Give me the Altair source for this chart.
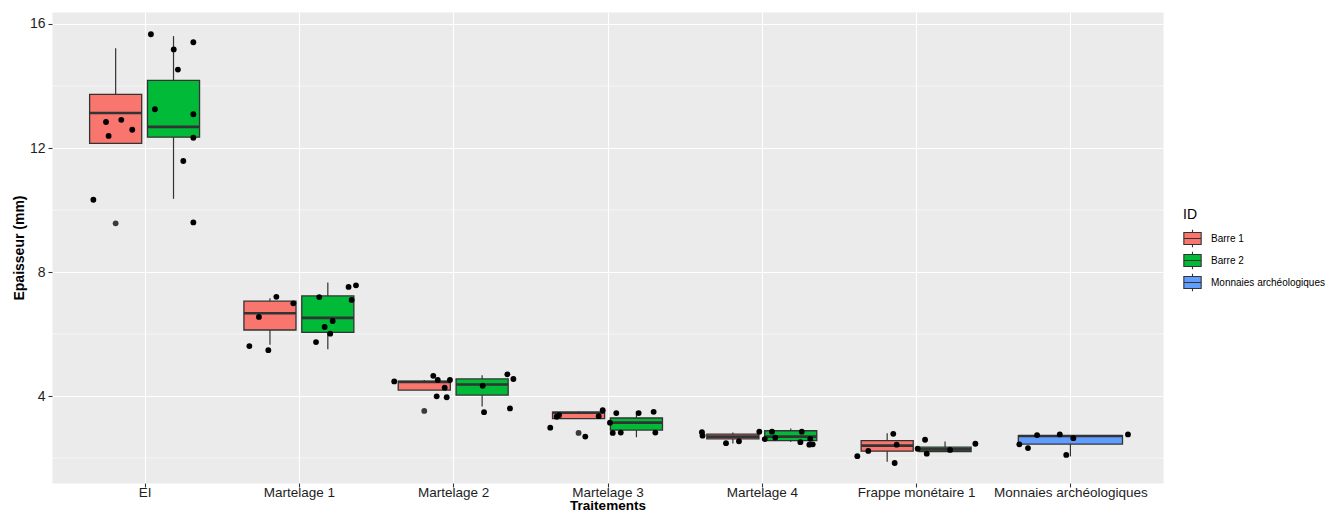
import json
import altair as alt
import pandas as pd

# ---------------- data ----------------
categories = ["EI", "Martelage 1", "Martelage 2", "Martelage 3", "Martelage 4",
              "Frappe monétaire 1", "Monnaies archéologiques"]
ids = ["Barre 1", "Barre 2", "Monnaies archéologiques"]
id_colors = ["#F8766D", "#00BA38", "#619CFF"]

box_cat = ["EI", "EI", "Martelage 1", "Martelage 1", "Martelage 2", "Martelage 2",
           "Martelage 3", "Martelage 3", "Martelage 4", "Martelage 4",
           "Frappe monétaire 1", "Frappe monétaire 1", "Monnaies archéologiques"]
box_id = ["Barre 1", "Barre 2"] * 6 + ["Monnaies archéologiques"]
box_low = [12.15, 10.36, 5.65, 5.51, 4.19, 3.66, 3.27, 2.67, 2.47, 2.52, 1.88, 2.21, 2.05]
box_q1 = [12.15, 12.35, 6.13, 6.05, 4.19, 4.03, 3.27, 2.90, 2.62, 2.56, 2.22, 2.21, 2.45]
box_med = [13.13, 12.68, 6.67, 6.52, 4.45, 4.37, 3.46, 3.14, 2.69, 2.69, 2.40, 2.28, 2.71]
box_q3 = [13.73, 14.18, 7.06, 7.23, 4.48, 4.55, 3.48, 3.29, 2.77, 2.88, 2.56, 2.35, 2.72]
box_high = [15.22, 15.61, 7.15, 7.66, 4.52, 4.67, 3.50, 3.51, 2.82, 2.95, 2.80, 2.53, 2.72]

out_cat = ["EI", "Martelage 2", "Martelage 3"]
out_id = ["Barre 1", "Barre 1", "Barre 1"]
out_value = [9.57, 3.52, 2.81]

pt_cat = (["EI"] * 14 + ["Martelage 1"] * 13 + ["Martelage 2"] * 12 + ["Martelage 3"] * 13
          + ["Martelage 4"] * 13 + ["Frappe monétaire 1"] * 10 + ["Monnaies archéologiques"] * 7)
pt_jitter = [
    0.041, 0.316, 0.189, 0.216, 0.067, 0.316, -0.250, -0.151, -0.080, -0.233, 0.316, 0.251, -0.332, 0.316,
    -0.146, -0.036, -0.259, -0.321, -0.198, 0.132, 0.342, 0.322, 0.370, 0.219, 0.167, 0.203, 0.111,
    -0.382, -0.129, -0.100, -0.021, -0.055, -0.107, -0.042, 0.191, 0.351, 0.390, 0.200, 0.368,
    -0.371, -0.329, -0.314, -0.144, -0.057, -0.031, 0.016, 0.057, 0.034, 0.086, 0.202, 0.299, 0.310,
    -0.388, -0.384, -0.232, -0.148, -0.016, 0.066, 0.019, 0.087, 0.259, 0.250, 0.314, 0.308, 0.330,
    -0.381, -0.310, -0.148, -0.126, -0.139, 0.010, 0.058, 0.069, 0.220, 0.384,
    -0.331, -0.275, -0.216, -0.069, 0.019, -0.027, 0.373,
]
pt_value = [
    15.67, 15.41, 15.18, 14.53, 13.25, 13.09, 12.84, 12.91, 12.59, 12.39, 12.33, 11.58, 10.33, 9.60,
    7.20, 6.99, 6.55, 5.61, 5.48, 7.19, 7.10, 7.52, 7.57, 6.42, 6.23, 6.01, 5.74,
    4.47, 4.65, 4.52, 4.52, 4.27, 3.99, 3.96, 4.33, 4.70, 4.55, 3.48, 3.60,
    2.98, 3.33, 3.38, 2.69, 3.35, 3.54, 3.14, 3.45, 2.81, 2.82, 3.45, 3.49, 2.82,
    2.83, 2.72, 2.48, 2.54, 2.85, 2.85, 2.61, 2.66, 2.85, 2.51, 2.62, 2.43, 2.44,
    2.06, 2.23, 2.78, 2.43, 1.84, 2.30, 2.59, 2.14, 2.26, 2.46,
    2.44, 2.32, 2.74, 2.76, 2.64, 2.10, 2.76,
]

y_major = [4, 8, 12, 16]
y_minor = [2, 6, 10, 14]

# ---------------- dodge positions (ggplot-like) ----------------
DODGE = 0.75
boxes = pd.DataFrame({"cat": box_cat, "ID": box_id, "low": box_low, "q1": box_q1,
                      "med": box_med, "q3": box_q3, "high": box_high})
boxes["ci"] = boxes["cat"].map(categories.index)
boxes["n"] = boxes.groupby("cat")["ID"].transform("count")
boxes["k"] = boxes.groupby("cat").cumcount()
slot = DODGE / boxes["n"]
boxes["xc"] = boxes["ci"] - DODGE / 2 + (boxes["k"] + 0.5) * slot
boxes["xl"] = boxes["xc"] - slot * 0.9 / 2
boxes["xr"] = boxes["xc"] + slot * 0.9 / 2

outs = pd.DataFrame({"cat": out_cat, "ID": out_id, "value": out_value})
outs = outs.merge(boxes[["cat", "ID", "xc"]], on=["cat", "ID"], how="left")

pts = pd.DataFrame({"cat": pt_cat, "jit": pt_jitter, "value": pt_value})
pts["x"] = pts["cat"].map(categories.index) + pts["jit"]

minor = pd.DataFrame({"y": y_minor})

# ---------------- scales / axes ----------------
FONT = "Liberation Sans"
xscale = alt.Scale(domain=[-0.6, 6.6], nice=False, zero=False)
yscale = alt.Scale(domain=[1.194, 16.387], nice=False, zero=False)
label_expr = json.dumps(categories, ensure_ascii=False) + "[datum.value]"

xaxis = alt.Axis(values=list(range(len(categories))), labelExpr=label_expr, title="Traitements",
                 grid=True, gridColor="white", gridWidth=1.1, domain=False,
                 tickColor="#333333", tickSize=4, tickWidth=1.1, labelPadding=-2,
                 labelFont=FONT, labelFontSize=13.5, labelColor="#1e1e1e",
                 titleFont=FONT, titleFontSize=13.5, titleFontWeight="bold",
                 titleColor="black", titleBaseline="alphabetic", titleY=26.5,
                 labelOverlap=False, labelFlush=False)
yaxis = alt.Axis(values=y_major, format="d", title="Epaisseur (mm)",
                 grid=True, gridColor="white", gridWidth=1.1, domain=False,
                 tickColor="#333333", tickSize=4, tickWidth=1.1, labelPadding=3,
                 labelFont=FONT, labelFontSize=14, labelColor="#1e1e1e",
                 titleFont=FONT, titleFontSize=14, titleFontWeight="bold",
                 titleColor="black", titlePadding=3)

box_path = "M-1,-0.7H1V0.7H-1Z M-1,0H1 M0,-0.7V-1 M0,0.7V1"

minor_rules = alt.Chart(minor).mark_rule(color="white", strokeWidth=0.55).encode(
    y=alt.Y("y:Q", scale=yscale, axis=yaxis)
)

whiskers = alt.Chart(boxes).mark_rule(color="#333333", strokeWidth=1.2).encode(
    x=alt.X("xc:Q", scale=xscale, axis=xaxis),
    y=alt.Y("low:Q", scale=yscale, axis=yaxis),
    y2="high:Q",
)

bars = alt.Chart(boxes).mark_bar(stroke="#333333", strokeWidth=1.3, opacity=1).encode(
    x=alt.X("xl:Q", scale=xscale, axis=xaxis),
    x2="xr:Q",
    y=alt.Y("q1:Q", scale=yscale, axis=yaxis),
    y2="q3:Q",
    color=alt.Color("ID:N", scale=alt.Scale(domain=ids, range=id_colors),
                    legend=alt.Legend(title="ID", orient="none", legendX=1131, legendY=196,
                                      symbolType=box_path, symbolSize=300,
                                      symbolStrokeColor="#333333", symbolStrokeWidth=1.1,
                                      symbolOpacity=1, padding=0, rowPadding=-1,
                                      titlePadding=7, labelOffset=9,
                                      titleFont=FONT, titleFontSize=14, titleFontWeight="normal",
                                      titleColor="black", labelFont=FONT, labelFontSize=10,
                                      labelColor="black")),
)

medians = alt.Chart(boxes).mark_rule(color="#333333", strokeWidth=2.6).encode(
    x=alt.X("xl:Q", scale=xscale, axis=xaxis),
    x2="xr:Q",
    y=alt.Y("med:Q", scale=yscale, axis=yaxis),
)

outliers = alt.Chart(outs).mark_circle(color="#3a3a3a", size=34, opacity=1).encode(
    x=alt.X("xc:Q", scale=xscale, axis=xaxis),
    y=alt.Y("value:Q", scale=yscale, axis=yaxis),
)

points = alt.Chart(pts).mark_circle(color="black", size=34, opacity=1).encode(
    x=alt.X("x:Q", scale=xscale, axis=xaxis),
    y=alt.Y("value:Q", scale=yscale, axis=yaxis),
)

chart = alt.layer(minor_rules, whiskers, bars, medians, outliers, points).properties(
    width=1111, height=471,
    autosize=alt.AutoSizeParams(type="none"),
    padding={"left": 44, "top": 4, "right": 164, "bottom": 29},
).configure(
    background="white",
    view=alt.ViewConfig(fill="#EBEBEB", stroke="transparent"),
)

chart.save("out.html", embed_options={"renderer": "svg", "actions": False})
